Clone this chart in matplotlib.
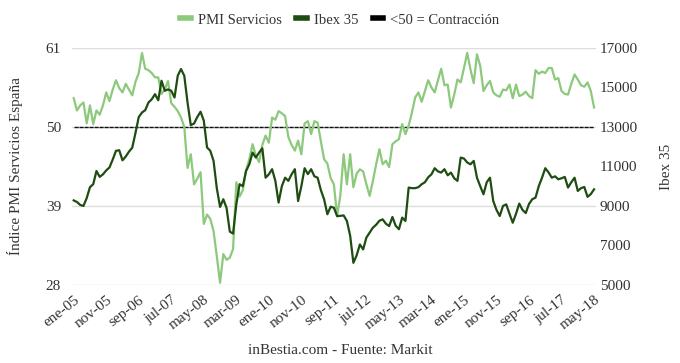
import matplotlib
matplotlib.use("Agg")
import matplotlib.pyplot as plt
import numpy as np

plt.rcParams['font.family'] = ['Liberation Serif', 'DejaVu Serif']

meses = ['ene', 'feb', 'mar', 'abr', 'may', 'jun', 'jul', 'ago', 'sep', 'oct', 'nov', 'dic']
fechas = [meses[m % 12] + '-' + '%02d' % (5 + m // 12) for m in range(161)]

pmi = [54.0, 52.3, 53.0, 53.4, 50.5, 53.0, 50.4, 52.3, 51.7, 53.0, 54.8, 53.6,
       55.2, 56.5, 55.4, 54.8, 56.0, 55.2, 54.4, 56.3, 57.5, 60.3, 58.1, 57.9,
       57.5, 56.9, 56.9, 54.6, 55.2, 56.4, 53.3, 52.8, 52.2, 51.3, 50.0, 44.3,
       46.2, 42.0, 42.8, 43.7, 36.5, 37.8, 37.2, 35.5, 32.0, 28.3, 32.3, 31.5,
       31.8, 33.0, 42.3, 40.3, 41.2, 44.0, 45.5, 47.6, 46.0, 45.1, 47.5, 48.8,
       47.8, 51.3, 51.0, 52.2, 51.9, 51.5, 48.6, 47.5, 46.7, 48.1, 46.2, 50.5,
       50.8, 49.0, 50.8, 50.6, 48.0, 45.5, 44.9, 42.9, 42.0, 37.6, 40.5, 46.2,
       42.0, 46.2, 41.6, 43.5, 44.1, 43.8, 42.0, 40.4, 42.5, 44.8, 46.9, 44.8,
       45.3, 44.4, 47.6, 48.0, 48.3, 50.4, 49.0, 50.2, 52.0, 54.1, 54.8, 53.5,
       55.0, 56.5, 55.5, 54.8, 56.5, 58.1, 55.8, 55.9, 52.7, 54.5, 56.6, 56.2,
       58.2, 60.3, 58.0, 56.1, 60.1, 58.5, 55.0, 55.8, 56.4, 54.8, 54.4, 54.2,
       55.2, 55.1, 55.9, 54.0, 55.9, 54.3, 54.5, 54.9, 54.3, 54.0, 57.9, 57.4,
       57.7, 57.5, 58.2, 58.2, 56.6, 56.8, 55.0, 54.6, 54.5, 56.0, 57.3, 56.6,
       55.8, 55.6, 56.2, 55.0, 52.7]

ibex = [9280, 9200, 9050, 9000, 9400, 9950, 10100, 10770, 10470, 10600, 10800, 10950,
        11350, 11790, 11820, 11310, 11500, 11750, 11950, 12700, 13500, 13730, 13850, 14240,
        14400, 14660, 14350, 15340, 14830, 14900, 14830, 14490, 15600, 15930, 15590, 14240,
        13090, 13170, 13500, 13770, 13320, 11960, 11790, 11280, 9900, 8950, 9340, 8900,
        7700, 7600, 9080, 10100, 10000, 10770, 11110, 11700, 11450, 11700, 11920, 10430,
        10600, 10860, 10270, 9170, 10000, 10430, 10270, 10600, 10860, 9250, 10000, 10910,
        10610, 10860, 10500, 10430, 9800, 9330, 8580, 8960, 8910, 8480, 8500, 8520,
        8240, 7500, 6120, 6500, 7050, 6800, 7400, 7650, 7900, 8050, 8250, 8320,
        8100, 7980, 8440, 8000, 7820, 8410, 8240, 9930, 9900, 9900, 9950, 10100,
        10200, 10450, 10600, 10910, 10750, 10690, 10860, 10550, 10690, 10400, 10270, 11450,
        11400, 11200, 11110, 11280, 10430, 10000, 9590, 10200, 10430, 9250, 8800, 8490,
        9000, 9080, 8600, 8150, 8600, 9120, 8800, 8640, 9100, 9340, 9420, 10000,
        10430, 10910, 10700, 10430, 10500, 10350, 10400, 10470, 9930, 10200, 10430, 9760,
        9900, 9960, 9460, 9600, 9840]

contraccion = [50] * len(fechas)

c_pmi = '#8cc97c'
c_ibex = '#1f4c10'
gris = '#333333'

fig = plt.figure(figsize=(6.8, 3.63), dpi=100)
ax = fig.add_axes([0.106, 0.215, 0.77, 0.653])
ax2 = ax.twinx()

x = np.arange(len(fechas))
ax.plot(x, pmi, color=c_pmi, lw=1.6, zorder=3, solid_joinstyle='round')
ax.plot(x, contraccion, color='#111111', lw=1.0, ls=(0, (3, 0.6)), zorder=2)
ax2.plot(x, ibex, color=c_ibex, lw=1.6, zorder=3, solid_joinstyle='round')

ax.set_ylim(28, 61)
ax.set_yticks([28, 39, 50, 61])
ax2.set_ylim(5000, 17000)
ax2.set_yticks(range(5000, 17001, 2000))
ax.set_xlim(-0.5, 160.5)

ax.grid(axis='y', color='#dddddd', lw=1)
ax.set_axisbelow(True)
for a in (ax, ax2):
    for s in a.spines.values():
        s.set_visible(False)
    a.tick_params(length=0, labelsize=11, colors=gris)

ax.set_xticks(x[::10])
ax.set_xticklabels(fechas[::10], rotation=38, ha='right', rotation_mode='anchor')
ax.tick_params(axis='x', pad=6)
ax.tick_params(axis='y', pad=8)
ax2.tick_params(axis='y', pad=3)

ax.set_ylabel('Índice PMI Servicios España', fontsize=11, color=gris, labelpad=16)
ax2.set_ylabel('Ibex 35', fontsize=11, color=gris, labelpad=16)

h1, = ax.plot([], [], color=c_pmi, lw=4)
h2, = ax.plot([], [], color=c_ibex, lw=4)
h3, = ax.plot([], [], color='black', lw=4)
fig.legend([h1, h2, h3], ['PMI Servicios', 'Ibex 35', '<50 = Contracción'],
           loc='center', bbox_to_anchor=(0.5, 0.945), ncol=3, frameon=False,
           fontsize=10.5, handlelength=0.7, handletextpad=0.5, columnspacing=1.0,
           labelcolor=gris)

fig.text(0.5, 0.025, 'inBestia.com - Fuente: Markit', ha='center', fontsize=11, color=gris)

fig.savefig('out.png', dpi=100)
